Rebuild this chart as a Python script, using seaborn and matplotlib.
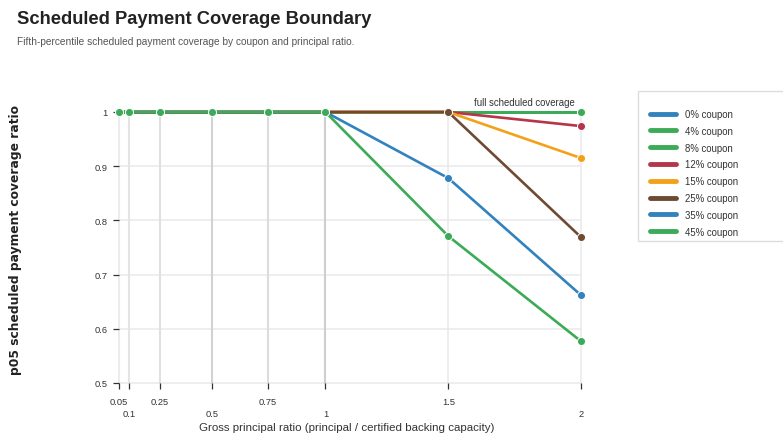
import numpy as np
import pandas as pd
import matplotlib
matplotlib.use("Agg")
import matplotlib.pyplot as plt
from matplotlib.lines import Line2D
from matplotlib.patches import Rectangle
import seaborn as sns


# principal ratios tested
ratios = [0.05, 0.1, 0.25, 0.5, 0.75, 1.0, 1.5, 2.0]
coupons = ["0% coupon", "4% coupon", "8% coupon", "12% coupon",
           "15% coupon", "25% coupon", "35% coupon", "45% coupon"]
colors = ["#3182bd", "#3cab57", "#3cab57", "#b5364a",
          "#f4a11a", "#6f4a33", "#3182bd", "#3cab57"]

# p05 coverage per coupon, one value per ratio
cov_0 = [1, 1, 1, 1, 1, 1, 1, 1]
cov_4 = [1, 1, 1, 1, 1, 1, 1, 1]
cov_8 = [1, 1, 1, 1, 1, 1, 1, 1]
cov_12 = [1, 1, 1, 1, 1, 1, 1, 0.974]
cov_15 = [1, 1, 1, 1, 1, 1, 1, 0.915]
cov_25 = [1, 1, 1, 1, 1, 1, 1, 0.769]
cov_35 = [1, 1, 1, 1, 1, 1, 0.878, 0.662]
cov_45 = [1, 1, 1, 1, 1, 1, 0.771, 0.577]

upper_labels = [0.05, 0.25, 0.75, 1.5]
lower_labels = [0.1, 0.5, 1, 2]


def fwd(x):
    x = np.asarray(x, dtype=float)
    return x + 0.1 * x ** 2


def inv(y):
    y = np.asarray(y, dtype=float)
    return (-1 + np.sqrt(np.clip(1 + 0.4 * y, 0, None))) / 0.2


def main():
    series = [cov_0, cov_4, cov_8, cov_12, cov_15, cov_25, cov_35, cov_45]
    rows = []
    for name, vals in zip(coupons, series):
        for r, v in zip(ratios, vals):
            rows.append({"ratio": r, "coverage": v, "coupon": name})
    df = pd.DataFrame(rows)
    palette = dict(zip(coupons, colors))

    sns.set_style("white")
    plt.rcParams["font.family"] = ["Liberation Sans", "DejaVu Sans"]

    fig = plt.figure(figsize=(7.83, 4.39), dpi=100)
    ax = fig.add_axes([119 / 783, 1 - 384 / 439, 462 / 783, 271 / 439])

    ax.set_xscale("function", functions=(fwd, inv))
    ax.set_xlim(0.05, 2)
    ax.set_ylim(0.5, 1)

    # grid
    for y in [0.5, 0.6, 0.7, 0.8, 0.9]:
        ax.axhline(y, color="#e9e9ee", lw=1.1, zorder=0)
    for x in [1.5, 2.0]:
        ax.axvline(x, color="#e9e9ee", lw=1.1, zorder=0)
    rule_cols = ["#ececec", "#e4e4e4", "#e0e0e0", "#d2d2d2", "#dcdcdc", "#cfcfcf"]
    for x, c in zip(ratios[:6], rule_cols):
        ax.axvline(x, color=c, lw=1.5, zorder=0.5)

    sns.lineplot(data=df, x="ratio", y="coverage", hue="coupon",
                 hue_order=coupons, palette=palette, marker="o",
                 markersize=5.8, markeredgecolor="white", markeredgewidth=0.7,
                 linewidth=1.9, legend=False, ax=ax, zorder=3)
    for ln in ax.lines:
        ln.set_clip_on(False)

    for s in ax.spines.values():
        s.set_visible(False)

    ax.set_yticks([0.5, 0.6, 0.7, 0.8, 0.9, 1.0])
    ax.set_yticklabels(["0.5", "0.6", "0.7", "0.8", "0.9", "1"])
    ax.set_xticks(upper_labels)
    ax.set_xticklabels(["0.05", "0.25", "0.75", "1.5"])
    ax.set_xticks(lower_labels, minor=True)
    ax.set_xticklabels(["0.1", "0.5", "1", "2"], minor=True)
    ax.tick_params(axis="both", which="both", length=4, width=0.9,
                   color="#333333", labelcolor="#333333", labelsize=6.7,
                   bottom=True, left=True)
    ax.tick_params(axis="x", which="major", pad=6)
    ax.tick_params(axis="x", which="minor", pad=15)
    ax.tick_params(axis="y", pad=4)

    ax.annotate("full scheduled coverage", xy=(2, 1), xytext=(-6, 5),
                textcoords="offset pixels", ha="right", va="bottom",
                fontsize=6.9, color="#333333")
    ax.set_xlabel("")
    ax.set_ylabel("")

    fig.text(17 / 783, 1 - 24 / 439, "Scheduled Payment Coverage Boundary",
             fontsize=13.2, fontweight="bold", color="#222222", va="baseline")
    fig.text(17 / 783, 1 - 45 / 439,
             "Fifth-percentile scheduled payment coverage by coupon and principal ratio.",
             fontsize=7.3, color="#555555", va="baseline")
    fig.text(16 / 783, 1 - 240 / 439, "p05 scheduled payment coverage ratio",
             rotation=90, ha="center", va="center", fontsize=8.8,
             fontweight="bold", color="#222222", family="DejaVu Sans")
    fig.text(347 / 783, 1 - 428 / 439,
             "Gross principal ratio (principal / certified backing capacity)",
             ha="center", va="center", fontsize=8.25, color="#333333")

    # legend box
    fig.patches.append(Rectangle((638 / 783, 1 - 242 / 439), 0.2, 150 / 439,
                                 transform=fig.transFigure, facecolor="white",
                                 edgecolor="#dddddd", lw=1, zorder=0))
    handles = [Line2D([], [], color=c, lw=3.5) for c in colors]
    fig.legend(handles, coupons, loc="upper left",
               bbox_to_anchor=(650 / 783, 1 - 110 / 439), frameon=False,
               fontsize=6.9, handlelength=2.7, handletextpad=0.95,
               labelspacing=0.71, borderpad=0, borderaxespad=0,
               labelcolor="#333333")

    fig.savefig("out.png", dpi=100)


if __name__ == "__main__":
    main()
